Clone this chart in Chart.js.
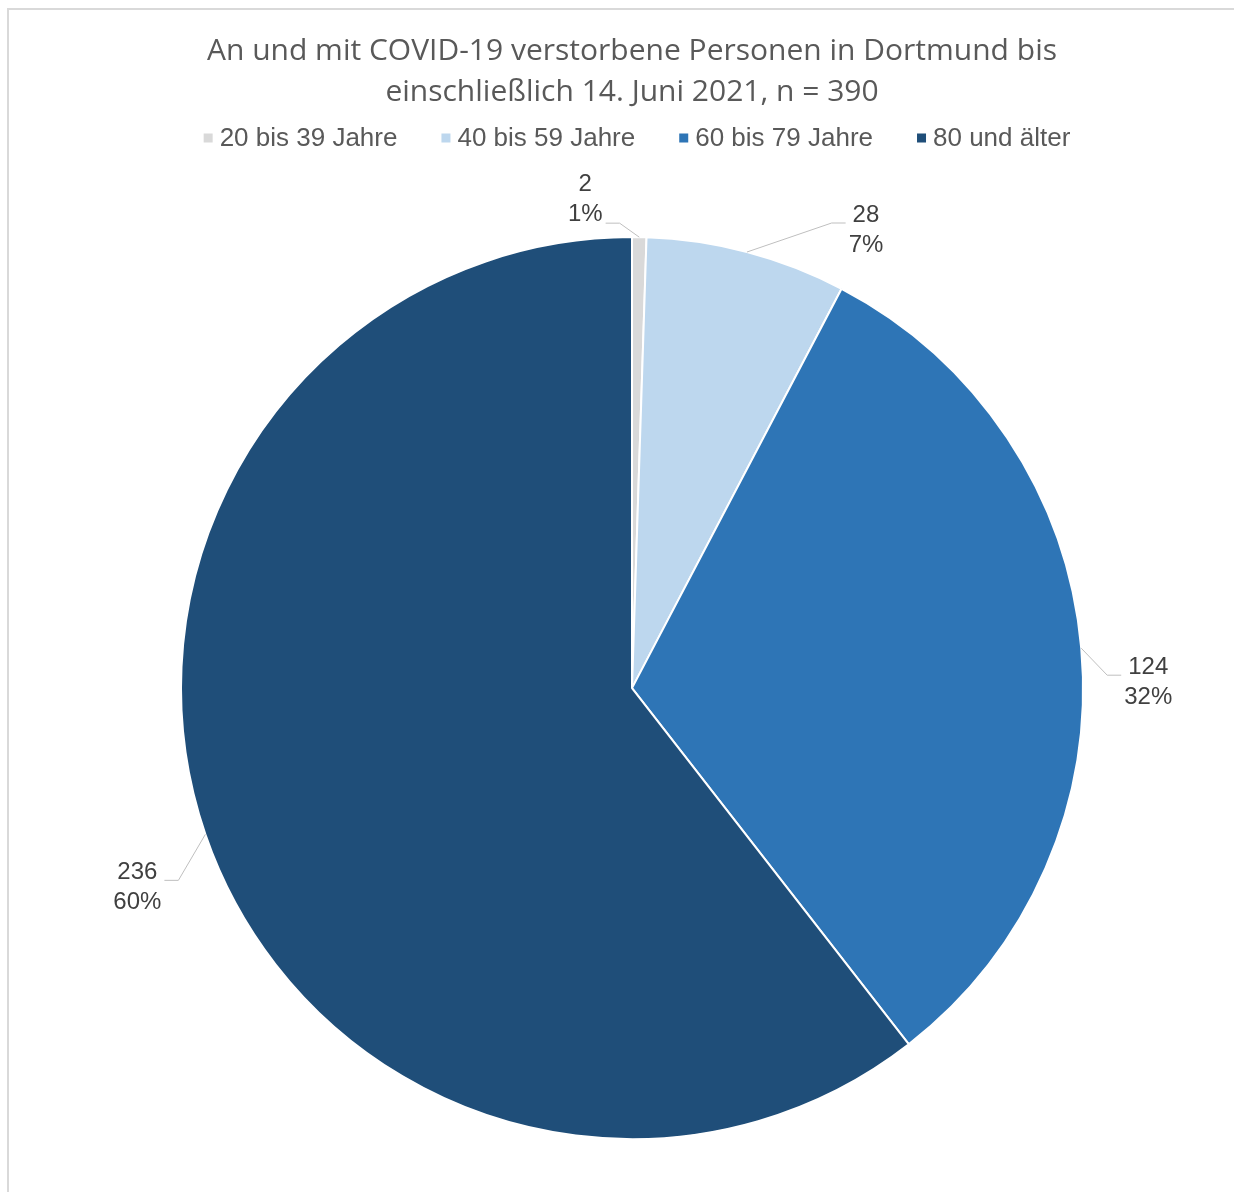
<!DOCTYPE html>
<html>
<head>
<meta charset="utf-8">
<script src="https://cdn.jsdelivr.net/npm/chart.js@4/dist/chart.umd.min.js"></script>
<style>
    html, body { margin: 0; padding: 0; background: #fff; overflow: hidden; }
    #wrap { position: relative; width: 1234px; height: 1192px; }
    #frame { position: absolute; left: 7px; top: 8px; right: -10px; bottom: -10px;
             border-top: 2px solid #D9D9D9; border-left: 2px solid #D9D9D9; }
    canvas { position: absolute; left: 0; top: 0; }
</style>
</head>
<body>
<div id="wrap">
    <div id="frame"></div>
    <canvas id="pieChart"></canvas>
</div>
<script>
// Datos
var categories = ['20 bis 39 Jahre', '40 bis 59 Jahre', '60 bis 79 Jahre', '80 und älter'];
var values = [2, 28, 124, 236];
var percentLabels = ['1%', '7%', '32%', '60%'];
var colors = ['#D9D9D9', '#BDD7EE', '#2E75B6', '#1F4E79'];
var titleLines = ['An und mit COVID-19 verstorbene Personen in Dortmund bis', 'einschließlich 14. Juni 2021, n = 390'];

// desplazamiento de cada etiqueta respecto al borde del sector (px)
var labelShift = [[-54, -38], [119, -22], [67, 34], [-68, 53]];

var labelFont = '24px "Liberation Sans", Arial, sans-serif';
var legendFont = '26px "Liberation Sans", Arial, sans-serif';

// Etiquetas con líneas guía
var pieLabels = {
    id: 'pieLabels',
    afterDraw: function(chart) {
        var ctx = chart.ctx;
        var meta = chart.getDatasetMeta(0);
        ctx.save();
        ctx.font = labelFont;
        ctx.textAlign = 'center';
        ctx.textBaseline = 'middle';
        meta.data.forEach(function(arc, i) {
            var p = arc.getProps(['x', 'y', 'startAngle', 'endAngle', 'outerRadius'], true);
            var a = (p.startAngle + p.endAngle) / 2;
            var ex = p.x + Math.cos(a) * p.outerRadius;
            var ey = p.y + Math.sin(a) * p.outerRadius;
            var cx = ex + labelShift[i][0];
            var cy = ey + labelShift[i][1];
            var l1 = String(values[i]);
            var l2 = percentLabels[i];
            var w = Math.max(ctx.measureText(l1).width, ctx.measureText(l2).width);
            var left = cx - w / 2, right = cx + w / 2, bottom = cy + 26;

            var ax, dir;
            if (ex > right) { ax = right + 3; dir = 1; } else { ax = left - 3; dir = -1; }
            var ay = ey > bottom ? bottom - 2 : cy - 7;

            ctx.strokeStyle = '#BFBFBF';
            ctx.lineWidth = 1;
            ctx.beginPath();
            ctx.moveTo(ax, ay);
            ctx.lineTo(ax + dir * 14, ay);
            ctx.lineTo(ex, ey);
            ctx.stroke();

            ctx.fillStyle = '#404040';
            ctx.fillText(l1, cx, cy - 15);
            ctx.fillText(l2, cx, cy + 15);
        });
        ctx.restore();
    }
};

// Leyenda dibujada a mano (cuadrado pequeño + texto)
var squareLegend = {
    id: 'squareLegend',
    afterDraw: function(chart) {
        var ctx = chart.ctx;
        ctx.save();
        ctx.font = legendFont;
        ctx.textBaseline = 'middle';
        var box = 9, gap = 7, spacing = 44, y = 138;
        var widths = categories.map(function(c) { return ctx.measureText(c).width; });
        var total = 0;
        widths.forEach(function(w, i) { total += box + gap + w + (i > 0 ? spacing : 0); });
        var x = (chart.chartArea.left + chart.chartArea.right) / 2 + 5 - total / 2;
        categories.forEach(function(c, i) {
            ctx.fillStyle = colors[i];
            ctx.fillRect(x, y - box / 2, box, box);
            ctx.fillStyle = '#595959';
            ctx.fillText(c, x + box + gap, y + 1);
            x += box + gap + widths[i] + spacing;
        });
        ctx.restore();
    }
};

var config = {
    type: 'pie',
    data: {
        labels: categories,
        datasets: [{
            data: values,
            backgroundColor: colors,
            borderColor: '#ffffff',
            borderWidth: 2,
            radius: 451
        }]
    },
    options: {
        responsive: false,
        animation: false,
        layout: { padding: { left: 30, right: 0, top: 0, bottom: 16 } },
        plugins: {
            legend: { display: false },
            tooltip: { enabled: false },
            title: {
                display: true,
                text: titleLines,
                color: '#595959',
                font: { family: '"Open Sans"', size: 30, weight: 'normal', lineHeight: 1.37 },
                padding: { top: 31, bottom: 87 }
            }
        }
    },
    plugins: [pieLabels, squareLegend]
};

var canvas = document.getElementById('pieChart');
canvas.width = 1234;
canvas.height = 1192;
new Chart(canvas, config);
</script>
</body>
</html>
